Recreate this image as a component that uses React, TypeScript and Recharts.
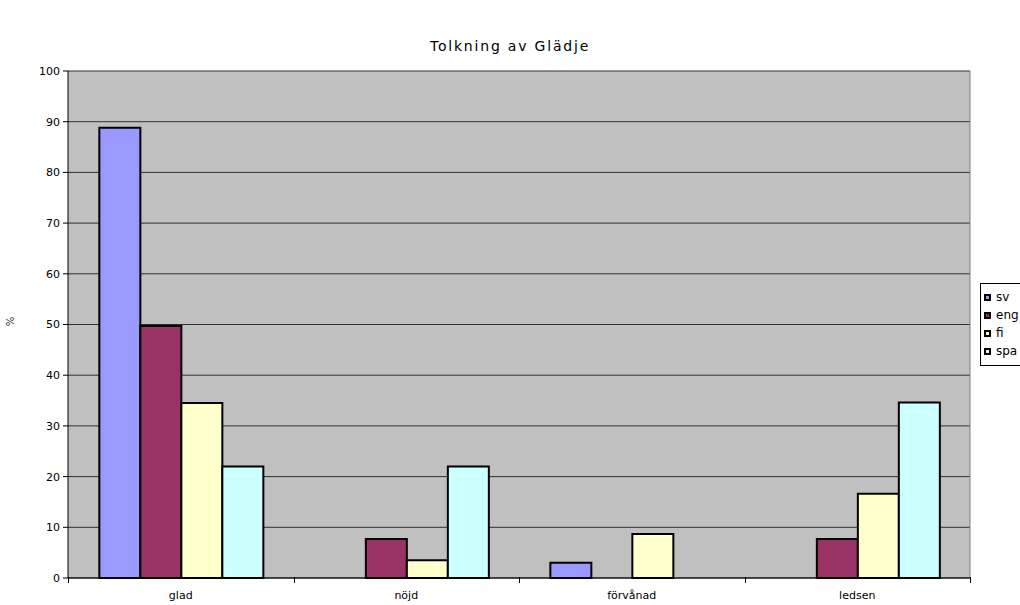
import React from 'react';
import { BarChart, Bar, XAxis, YAxis, CartesianGrid } from 'recharts';

const categories = ['glad', 'nöjd', 'förvånad', 'ledsen'];
const sv = [88.8, 0, 3, 0];
const eng = [49.7, 7.7, 0, 7.7];
const fi = [34.5, 3.5, 8.7, 16.6];
const spa = [22, 22, 0, 34.6];
const seriesNames = ['sv', 'eng', 'fi', 'spa'];
const seriesColors = ['#9999FF', '#993366', '#FFFFCC', '#CCFFFF'];
const yTicks = [0, 10, 20, 30, 40, 50, 60, 70, 80, 90, 100];
const categoryEdges = [0, 1, 2, 3, 4];
const categoryCenters = [0.5, 1.5, 2.5, 3.5];
const title = 'Tolkning av Glädje';

const seriesValues = [sv, eng, fi, spa];
const data = categories.map((c, i) => {
  const row: any = { name: c, idx: i + 0.5 };
  seriesNames.forEach((s, k) => {
    row[s] = seriesValues[k][i];
  });
  return row;
});
const bottomTicks = [...categoryEdges, ...categoryCenters].sort((a, b) => a - b);

const FONT = '"DejaVu Sans", Verdana, sans-serif';

const LegendBox = () => (
  <div
    style={{
      position: 'absolute',
      left: 980,
      top: 283,
      width: 60,
      boxSizing: 'border-box',
      border: '1px solid #000',
      background: '#fff',
      padding: '4px 0 5px 3px',
      fontFamily: FONT,
      fontSize: 12,
      color: '#000',
    }}
  >
    {seriesNames.map((s, i) => (
      <div key={s} style={{ display: 'flex', alignItems: 'center', height: 18 }}>
        <span
          style={{
            display: 'inline-block',
            width: 3,
            height: 3,
            border: '2px solid #000',
            background: seriesColors[i],
            marginRight: 5,
          }}
        />
        <span>{s}</span>
      </div>
    ))}
  </div>
);

const BottomTick = (props: any) => {
  const { x, y, payload } = props;
  const v = Number(payload.value);
  if (Math.abs(v - Math.round(v)) < 1e-6) {
    return (
      <line
        x1={Math.round(x) + 0.5}
        x2={Math.round(x) + 0.5}
        y1={y - 1}
        y2={y + 5}
        stroke="#000"
        strokeWidth={1}
        shapeRendering="crispEdges"
      />
    );
  }
  const label = categories[Math.floor(v)];
  return (
    <text x={x} y={y + 21} textAnchor="middle" fontSize={11} fill="#000" fontFamily={FONT}>
      {label}
    </text>
  );
};

export default function App() {
  return (
    <div style={{ position: 'absolute', left: 0, top: 0, width: 1020, height: 605, background: '#fff', fontFamily: FONT, overflow: 'hidden' }}>
      <div
        style={{
          position: 'absolute',
          left: 0,
          top: 38,
          width: 1020,
          textAlign: 'center',
          fontSize: 14,
          letterSpacing: 1.8,
          color: '#000',
        }}
      >
        {title}
      </div>
      <div
        style={{
          position: 'absolute',
          left: 6,
          top: 316,
          fontSize: 10,
          transform: 'rotate(-90deg)',
          color: '#222',
        }}
      >
        %
      </div>
      <BarChart
        width={1020}
        height={605}
        data={data}
        margin={{ top: 71, right: 50, bottom: 0, left: 0 }}
        barCategoryGap="13.9%"
        barGap={0}
      >
        <CartesianGrid vertical={false} horizontal stroke="#303030" fill="#C0C0C0" fillOpacity={1} />
        <CartesianGrid
          horizontal={false}
          vertical
          stroke="#808080"
          verticalCoordinatesGenerator={({ offset }: any) => [offset.left + offset.width]}
        />
        <XAxis
          xAxisId="edges"
          dataKey="idx"
          type="number"
          domain={[0, 4]}
          ticks={bottomTicks}
          tick={<BottomTick />}
          tickLine={false}
          tickSize={0}
          tickMargin={0}
          axisLine={{ stroke: '#000' }}
          height={27}
          interval={0}
        />
        <XAxis dataKey="name" hide height={0} />
        <YAxis
          domain={[0, 100]}
          ticks={yTicks}
          width={68}
          axisLine={{ stroke: '#000' }}
          tickLine={{ stroke: '#000' }}
          tickSize={5}
          tickMargin={3}
          tick={{ fontSize: 11, fill: '#000', fontFamily: FONT }}
          interval={0}
        />
        {seriesNames.map((s, i) => (
          <Bar
            key={s}
            dataKey={s}
            fill={seriesColors[i]}
            stroke="#000"
            strokeWidth={2}
            isAnimationActive={false}
          />
        ))}
      </BarChart>
      <LegendBox />
    </div>
  );
}
